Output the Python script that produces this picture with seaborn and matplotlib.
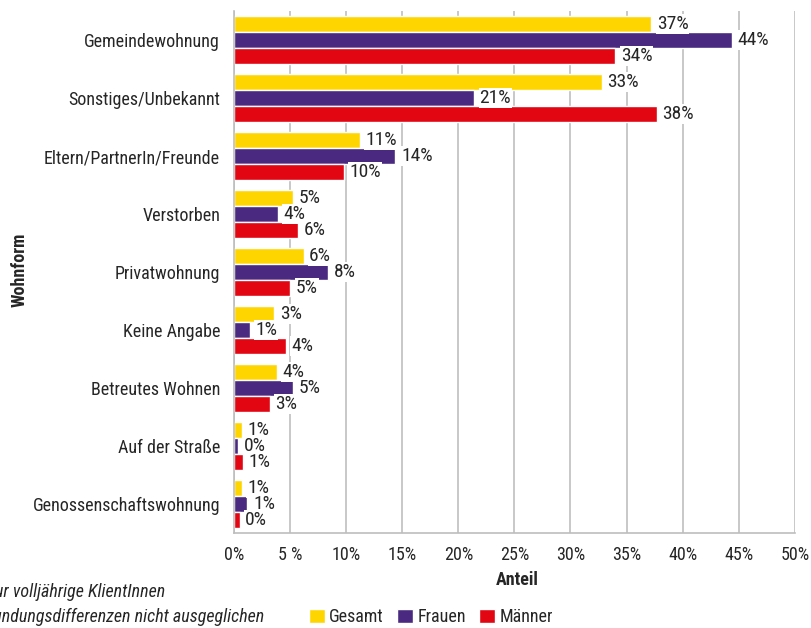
import matplotlib
matplotlib.use("Agg")
import matplotlib.pyplot as plt
from matplotlib import font_manager
import seaborn as sns
import pandas as pd
from matplotlib.ticker import FixedLocator

categories = ["Gemeindewohnung", "Sonstiges/Unbekannt", "Eltern/PartnerIn/Freunde",
              "Verstorben", "Privatwohnung", "Keine Angabe", "Betreutes Wohnen",
              "Auf der Straße", "Genossenschaftswohnung"]
gesamt = [37.2, 32.8, 11.2, 5.3, 6.2, 3.6, 3.8, 0.7, 0.7]
frauen = [44.4, 21.4, 14.4, 3.9, 8.4, 1.4, 5.3, 0.4, 1.2]
maenner = [34.0, 37.7, 9.8, 5.7, 5.0, 4.6, 3.2, 0.8, 0.5]
label_g = ["37%", "33%", "11%", "5%", "6%", "3%", "4%", "1%", "1%"]
label_f = ["44%", "21%", "14%", "4%", "8%", "1%", "5%", "0%", "1%"]
label_m = ["34%", "38%", "10%", "6%", "5%", "4%", "3%", "1%", "0%"]
series = ["Gesamt", "Frauen", "Männer"]
xticks = [0, 5, 10, 15, 20, 25, 30, 35, 40, 45, 50]
xticklabels = ["0%", "5 %", "10%", "15%", "20%", "25%", "30%", "35%", "40%", "45%", "50%"]

rows = []
for s, vals in zip(series, [gesamt, frauen, maenner]):
    for c, v in zip(categories, vals):
        rows.append({"Wohnform": c, "Anteil": v, "Serie": s})
df = pd.DataFrame(rows)

sns.set_style("white")
available = {f.name for f in font_manager.fontManager.ttflist}
candidates = ["Roboto Condensed", "Archivo Narrow", "PT Sans Narrow", "Fira Sans Condensed",
              "Liberation Sans Narrow", "Barlow Condensed", "Liberation Sans"]
font = next((c for c in candidates if c in available), "DejaVu Sans")
plt.rcParams["font.family"] = [font, "DejaVu Sans"]

fig = plt.figure(figsize=(8.11, 6.28), dpi=100)
ax = fig.add_axes([0.2885, 0.151, 0.6915, 0.8315])

palette = {"Gesamt": "#FFD500", "Frauen": "#4A2A80", "Männer": "#E20613"}
sns.barplot(data=df, y="Wohnform", x="Anteil", hue="Serie", order=categories,
            hue_order=series, palette=palette, orient="h", width=0.83, gap=0,
            saturation=1, ax=ax, legend=True)

FS = 13
for cont, labs in zip(ax.containers, [label_g, label_f, label_m]):
    ax.bar_label(cont, labels=labs, padding=4, fontsize=14,
                 bbox=dict(boxstyle="square,pad=0.05", fc="white", ec="none"))

ax.set_xlim(0, 50)
ax.set_ylim(len(categories) - 0.5, -0.5)
ax.set_xticks(xticks)
ax.set_xticklabels(xticklabels, fontsize=FS)
ax.tick_params(axis="y", labelsize=FS, length=0, pad=10)
ax.tick_params(axis="x", length=5, color="#bdbdbd", pad=4)
ax.yaxis.set_minor_locator(FixedLocator([i - 0.5 for i in range(len(categories) + 1)]))
ax.tick_params(axis="y", which="minor", length=5, color="#bdbdbd", direction="out")
ax.xaxis.grid(True, color="#c4c4c4", linewidth=1.3)
ax.set_axisbelow(True)
for sp in ["top", "right"]:
    ax.spines[sp].set_visible(False)
for sp in ["left", "bottom"]:
    ax.spines[sp].set_color("#bdbdbd")
    ax.spines[sp].set_linewidth(1.2)

ax.set_xlabel("Anteil", fontsize=FS, fontweight="bold", va="center")
ax.xaxis.set_label_coords((517 - 234) / 561, -(580 - 533) / 522)
ax.set_ylabel("Wohnform", fontsize=FS, fontweight="bold")
ax.yaxis.set_label_coords(-(234 - 29) / 561, (533 - 270) / 522)

handles, labels = ax.get_legend_handles_labels()
ax.get_legend().remove()
fig.legend(handles, labels, loc="center", bbox_to_anchor=(431 / 811, 1 - 617 / 628),
           ncol=3, frameon=False, fontsize=FS, handlelength=0.85, handleheight=0.85,
           handletextpad=0.25, columnspacing=0.75)

fig.text(165 / 811, 1 - 592 / 628, "Nur volljährige KlientInnen", ha="right", va="center",
         fontsize=FS, style="italic")
fig.text(264 / 811, 1 - 617 / 628, "Rundungsdifferenzen nicht ausgeglichen", ha="right",
         va="center", fontsize=FS, style="italic")

fig.savefig("out.png", dpi=100)
